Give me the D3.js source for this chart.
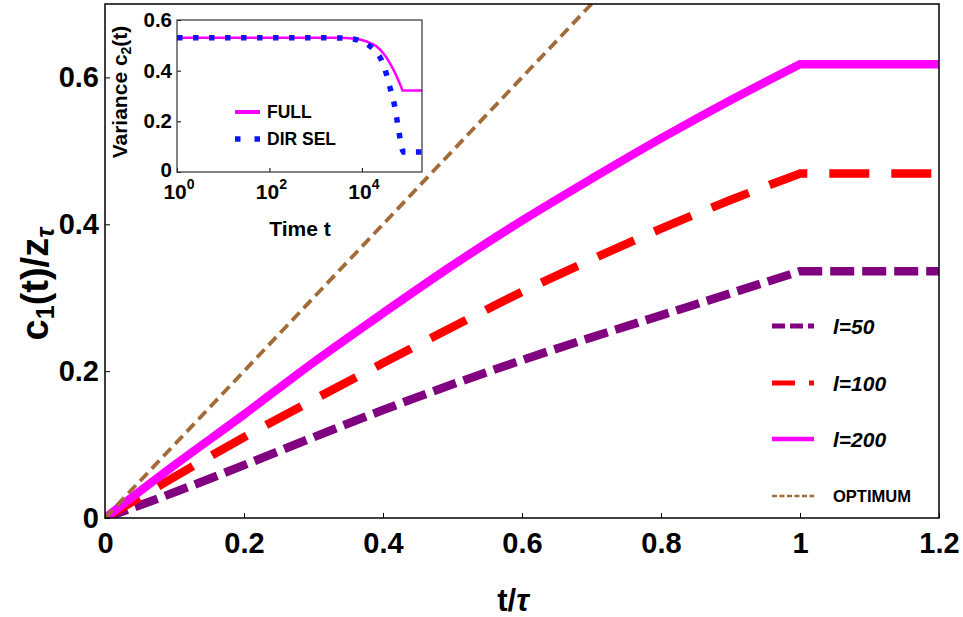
<!DOCTYPE html>
<html>
<head>
<meta charset="utf-8">
<script src="https://cdn.jsdelivr.net/npm/d3@7"></script>
<style>
  body { margin: 0; background: #fff; }
  text { font-family: "Liberation Sans", Arial, Helvetica, sans-serif; font-weight: bold; fill: #000; }
</style>
</head>
<body>
<svg id="chart" width="963" height="617"></svg>
<script>
// ---- main panel data: mean c1(t)/z_tau against t/tau ----
const tGrid   = [0, 0.1, 0.2, 0.3, 0.4, 0.5, 0.6, 0.7, 0.8, 0.9, 1.0];
const l50     = [0, 0.035, 0.072, 0.110, 0.147, 0.182, 0.215, 0.246, 0.276, 0.306, 0.336];
const l100    = [0, 0.056, 0.110, 0.161, 0.211, 0.260, 0.308, 0.352, 0.394, 0.433, 0.469];
const l200    = [0, 0.072, 0.141, 0.212, 0.279, 0.344, 0.405, 0.462, 0.517, 0.569, 0.618];
const tPlateauEnd = 1.2;
const optimumT = [0, 0.72];
const optimumV = [0, 0.72];

const xTicks = [0, 0.2, 0.4, 0.6, 0.8, 1, 1.2];
const xTickLabels = ["0", "0.2", "0.4", "0.6", "0.8", "1", "1.2"];
const yTicks = [0, 0.2, 0.4, 0.6];
const yTickLabels = ["0", "0.2", "0.4", "0.6"];

const seriesNames = ["l=50", "l=100", "l=200", "OPTIMUM"];

// ---- inset data: variance c2(t) against log10 time ----
const fullLog10T   = [0, 1, 2, 3, 3.5, 3.8, 4.0, 4.1, 4.3, 4.5, 4.7, 4.88, 5.3];
const fullVar      = [0.53, 0.53, 0.53, 0.53, 0.53, 0.527, 0.521, 0.515, 0.498, 0.46, 0.397, 0.322, 0.322];
const dirSelLog10T = [0, 1, 2, 3, 3.5, 3.8, 4.0, 4.15, 4.3, 4.4, 4.5, 4.6, 4.7, 4.8, 4.86, 4.9, 5.3];
const dirSelVar    = [0.53, 0.53, 0.53, 0.53, 0.529, 0.525, 0.515, 0.5, 0.475, 0.45, 0.405, 0.338, 0.268, 0.16, 0.095, 0.079, 0.079];
const insetXTickExp = [0, 2, 4];
const insetYTicks = [0, 0.2, 0.4, 0.6];
const insetYTickLabels = ["0", "0.2", "0.4", "0.6"];
const insetNames = ["FULL", "DIR SEL"];

const svg = d3.select("#chart");

// ---------------- main panel ----------------
const M = { left: 105, right: 939, top: 4, bottom: 518 };
const x = d3.scaleLinear().domain([0, 1.2]).range([M.left, M.right]);
const y = d3.scaleLinear().domain([0, 0.7]).range([M.bottom, M.top]);

svg.append("clipPath").attr("id", "plotClip")
  .append("rect").attr("x", M.left).attr("y", M.top)
  .attr("width", M.right - M.left).attr("height", M.bottom - M.top);

const plot = svg.append("g").attr("clip-path", "url(#plotClip)");

const rising = d3.line().x(d => x(d[0])).y(d => y(d[1])).curve(d3.curveMonotoneX);
function riseThenPlateau(vals) {
  const pts = tGrid.map((t, i) => [t, vals[i]]);
  const last = vals[vals.length - 1];
  return rising(pts) + "L" + x(tPlateauEnd + 0.01) + "," + y(last);
}

const styles = [
  { color: "#800080", width: 8.5, dash: "24,8",  lw: 5,   ldash: "13,5" },
  { color: "#ff0000", width: 8.5, dash: "40,22", lw: 5,   ldash: "23,14" },
  { color: "#ff00ff", width: 8.5, dash: null,    lw: 4.5, ldash: null },
  { color: "#a36b38", width: 3.8, dash: "11,6",  lw: 2.6, ldash: "5,2.5" }
];

[l50, l100, l200].forEach((vals, i) => {
  plot.append("path")
    .attr("d", riseThenPlateau(vals))
    .attr("fill", "none")
    .attr("stroke", styles[i].color)
    .attr("stroke-width", styles[i].width)
    .attr("stroke-dasharray", styles[i].dash)
    .attr("stroke-linecap", "butt");
});

plot.append("path")
  .attr("d", d3.line().x(d => x(d[0])).y(d => y(d[1]))(optimumT.map((t, i) => [t, optimumV[i]])))
  .attr("fill", "none")
  .attr("stroke", styles[3].color)
  .attr("stroke-width", styles[3].width)
  .attr("stroke-dasharray", styles[3].dash);

// axes with inward ticks
const xAxis = svg.append("g").attr("transform", `translate(0,${M.bottom})`)
  .call(d3.axisBottom(x).tickValues(xTicks).tickSize(-5).tickPadding(14)
    .tickFormat((d, i) => xTickLabels[i]));
xAxis.select(".domain").remove();
xAxis.selectAll("text").attr("font-size", 29).attr("dy", "0.71em")
  .style("font-family", "'Liberation Sans', Arial, sans-serif").style("font-weight", "bold");

const yAxis = svg.append("g").attr("transform", `translate(${M.left},0)`)
  .call(d3.axisLeft(y).tickValues(yTicks).tickSize(-5).tickPadding(6)
    .tickFormat((d, i) => yTickLabels[i]));
yAxis.select(".domain").remove();
yAxis.selectAll("text").attr("font-size", 29)
  .style("font-family", "'Liberation Sans', Arial, sans-serif").style("font-weight", "bold");
svg.selectAll(".tick line").attr("stroke", "#000").attr("stroke-width", 1);

svg.append("rect").attr("x", M.left).attr("y", M.top)
  .attr("width", M.right - M.left).attr("height", M.bottom - M.top)
  .attr("fill", "none").attr("stroke", "#000").attr("stroke-width", 1.5);

// axis titles
const xt = svg.append("text").attr("x", 513).attr("y", 611)
  .attr("text-anchor", "middle").attr("font-size", 31);
xt.append("tspan").text("t/");
xt.append("tspan").attr("font-style", "italic").text("τ");

const yt = svg.append("text")
  .attr("transform", "translate(48,284) rotate(-90)")
  .attr("text-anchor", "middle").attr("font-size", 38);
yt.append("tspan").text("c");
yt.append("tspan").attr("font-size", 25).attr("dy", 6).text("1");
yt.append("tspan").attr("dy", -6).text("(t)/z");
yt.append("tspan").attr("font-size", 25).attr("dy", 6).attr("font-style", "italic").text("τ");

// legend
const legendY = [326, 383, 439, 496];
seriesNames.forEach((name, i) => {
  const s = styles[i];
  svg.append("line")
    .attr("x1", 772).attr("x2", 814).attr("y1", legendY[i]).attr("y2", legendY[i])
    .attr("stroke", s.color).attr("stroke-width", s.lw)
    .attr("stroke-dasharray", s.ldash);
  const isOpt = i === 3;
  svg.append("text")
    .attr("x", 833).attr("y", legendY[i]).attr("dy", "0.36em")
    .attr("font-size", isOpt ? 16.5 : 21)
    .attr("font-style", isOpt ? "normal" : "italic")
    .text(name);
});

// ---------------- inset ----------------
const I = { left: 177, right: 422, top: 20, bottom: 172 };
const ix = d3.scaleLog().domain([1, Math.pow(10, 5.3)]).range([I.left, I.right]);
const iy = d3.scaleLinear().domain([0, 0.6]).range([I.bottom, I.top]);

const inset = svg.append("g");
inset.append("rect").attr("x", I.left).attr("y", I.top)
  .attr("width", I.right - I.left).attr("height", I.bottom - I.top).attr("fill", "#fff");

const iLine = d3.line().x(d => ix(Math.pow(10, d[0]))).y(d => iy(d[1])).curve(d3.curveMonotoneX);
function insetPath(logs, vals) {
  const n = logs.length;
  const pts = logs.slice(0, n - 1).map((l, i) => [l, vals[i]]);
  return iLine(pts) + "L" + ix(Math.pow(10, logs[n - 1])) + "," + iy(vals[n - 1]);
}

inset.append("path").attr("d", insetPath(fullLog10T, fullVar))
  .attr("fill", "none").attr("stroke", "#ff00ff").attr("stroke-width", 2.5);
inset.append("path").attr("d", insetPath(dirSelLog10T, dirSelVar))
  .attr("fill", "none").attr("stroke", "#0a14ff").attr("stroke-width", 5.5)
  .attr("stroke-dasharray", "5.5,10.5");

const ixAxis = inset.append("g").attr("transform", `translate(0,${I.bottom})`)
  .call(d3.axisBottom(ix).tickValues(insetXTickExp.map(e => Math.pow(10, e))).tickSize(-4).tickFormat(""));
ixAxis.select(".domain").remove();
insetXTickExp.forEach(e => {
  const t = inset.append("text").attr("x", ix(Math.pow(10, e)) + 2).attr("y", 199)
    .attr("text-anchor", "middle").attr("font-size", 21);
  t.append("tspan").text("10");
  t.append("tspan").attr("font-size", 14).attr("dy", -10).text(String(e));
});

const iyAxis = inset.append("g").attr("transform", `translate(${I.left},0)`)
  .call(d3.axisLeft(iy).tickValues(insetYTicks).tickSize(-4).tickPadding(5)
    .tickFormat((d, i) => insetYTickLabels[i]));
iyAxis.select(".domain").remove();
iyAxis.selectAll("text").attr("font-size", 20.5)
  .style("font-family", "'Liberation Sans', Arial, sans-serif").style("font-weight", "bold");
iyAxis.selectAll(".tick").filter(d => d === 0).select("text").attr("dy", "0.2em");
inset.selectAll(".tick line").attr("stroke", "#000").attr("stroke-width", 1);

inset.append("rect").attr("x", I.left).attr("y", I.top)
  .attr("width", I.right - I.left).attr("height", I.bottom - I.top)
  .attr("fill", "none").attr("stroke", "#333").attr("stroke-width", 1.2);

inset.append("text").attr("x", 300).attr("y", 236).attr("text-anchor", "middle")
  .attr("font-size", 21).text("Time t");

const ivt = inset.append("text").attr("transform", "translate(127,92) rotate(-90)")
  .attr("text-anchor", "middle").attr("font-size", 21);
ivt.append("tspan").text("Variance c");
ivt.append("tspan").attr("font-size", 14).attr("dy", 4).text("2");
ivt.append("tspan").attr("dy", -4).text("(t)");

// inset legend
inset.append("line").attr("x1", 235).attr("x2", 260).attr("y1", 112).attr("y2", 112)
  .attr("stroke", "#ff00ff").attr("stroke-width", 4);
inset.append("line").attr("x1", 235).attr("x2", 260).attr("y1", 139).attr("y2", 139)
  .attr("stroke", "#0a14ff").attr("stroke-width", 5.5).attr("stroke-dasharray", "5.5,14");
inset.append("text").attr("x", 267).attr("y", 112).attr("dy", "0.36em")
  .attr("font-size", 17.5).text(insetNames[0]);
inset.append("text").attr("x", 267).attr("y", 139).attr("dy", "0.36em")
  .attr("font-size", 17.5).text(insetNames[1]);
</script>
</body>
</html>
